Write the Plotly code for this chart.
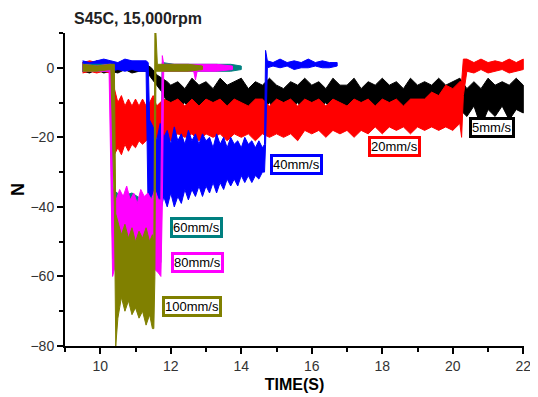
import plotly.graph_objects as go

# ---- data (envelopes: time [s], upper / lower force [N]) ----
labels = ["5mm/s", "20mm/s", "40mm/s", "60mm/s", "80mm/s", "100mm/s"]
colors = ["#000000", "#FF0000", "#0000FF", "#008080", "#FF00FF", "#808000"]

t_5 = [9.5, 9.7, 9.9, 10.1, 10.3, 10.5, 10.7, 10.9, 11.1, 11.3, 11.45, 11.6, 11.75, 11.9, 12.0,
       12.2, 12.4, 12.6, 12.8, 13.0, 13.2, 13.4, 13.6, 13.8, 14.0, 14.2, 14.4, 14.6, 14.8, 15.0,
       15.2, 15.4, 15.6, 15.8, 16.0, 16.2, 16.4, 16.6, 16.8, 17.0, 17.2, 17.4, 17.6, 17.8, 18.0,
       18.2, 18.4, 18.6, 18.8, 19.0, 19.2, 19.4, 19.6, 19.8, 20.0, 20.2, 20.4, 20.6, 20.8, 21.0,
       21.2, 21.4, 21.6, 21.8, 22.0]
hi_5 = [1.5, 1, 2, 1, 1.5, 1, 2, 1, 1.5, 1, 0, -2, -3, -4, -5,
        -4, -6, -3, -5, -4, -6, -3, -5, -4, -3, -6, -4, -5, -3, -5,
        -6, -4, -5, -3, -5, -4, -6, -3, -5, -5, -3, -6, -4, -5, -3,
        -5, -4, -6, -3, -5, -4, -5, -3, -5, -4, -3, -6, -4, -6, -3,
        -5, -4, -5, -3, -5]
lo_5 = [-1, -1.5, -0.5, -1.5, -1, -1.5, -0.5, -1.5, -1, -1, -3, -5, -7, -10, -11,
        -12, -10, -13, -11, -12, -10, -13, -11, -12, -10, -13, -11, -12, -10, -13,
        -11, -12, -10, -13, -11, -12, -10, -13, -11, -12, -10, -13, -11, -12, -10,
        -13, -11, -12, -10, -13, -11, -12, -10, -13, -11, -12, -14, -11, -17, -12,
        -14, -11, -15, -12, -13]

t_20 = [9.5, 9.7, 9.9, 10.1, 10.27, 10.32, 10.4, 10.5, 10.6, 10.7, 10.8, 10.9, 11.0, 11.1,
        11.2, 11.3, 11.4, 11.5, 11.6, 11.8,
        12.0, 12.2, 12.4, 12.6, 12.8, 13.0, 13.2, 13.4, 13.6, 13.8, 14.0, 14.2, 14.4, 14.6,
        14.8, 15.0, 15.2, 15.4, 15.6, 15.8, 16.0, 16.2, 16.4, 16.6, 16.8, 17.0, 17.2, 17.4,
        17.6, 17.8, 18.0, 18.2, 18.4, 18.6, 18.8, 19.0, 19.2, 19.4, 19.6, 19.8, 20.0, 20.2,
        20.25, 20.3, 20.4, 20.6, 20.8, 21.0, 21.2, 21.4, 21.6, 21.8, 22.0]
hi_20 = [1.5, 2, 1.5, 2, 1.5, -2, -6, -10, -8, -11, -9, -11, -9, -11,
         -9, -11, -10, -8, -11, -9,
         -10, -9, -11, -9, -11, -9, -10, -9, -11, -9, -10, -11, -9, -9,
         -11, -9, -10, -9, -11, -9, -10, -9, -11, -9, -10, -11, -9, -10,
         -9, -11, -9, -10, -9, -11, -9, -9, -9, -7, -8, -5, -6, -4,
         -4, 2.5, 2.5, 1.5, 2.5, 1.5, 2, 1.5, 2.5, 1.5, 2.5]
lo_20 = [-1.5, -1, -1.5, -1, -1.5, -22, -25, -23, -25, -22, -24, -22, -23, -21,
         -22, -21, -20, -22, -20, -21,
         -21, -19, -20, -19, -21, -19, -20, -19, -21, -19, -20, -19, -21, -19,
         -20, -19, -20, -19, -21, -18, -19, -18, -20, -18, -19, -18, -20, -18,
         -19, -17, -19, -17, -18, -17, -19, -17, -18, -17, -18, -17, -18, -16,
         -20, -8, -1, -1.5, -0.5, -1.5, -1, -0.5, -1.5, -1, -0.5]

t_40 = [9.5, 9.7, 9.9, 10.1, 10.3, 10.5, 10.7, 10.9, 11.1, 11.3, 11.36, 11.4,
        11.5, 11.6, 11.7, 11.8, 11.9, 12.0, 12.1, 12.2, 12.3, 12.4, 12.5, 12.6, 12.7, 12.8,
        12.9, 13.0, 13.1, 13.2, 13.3, 13.4, 13.5, 13.6, 13.7, 13.8, 13.9, 14.0, 14.1, 14.2,
        14.3, 14.4, 14.5, 14.6,
        14.66, 14.69, 14.74, 14.9, 15.1, 15.3, 15.5, 15.7, 15.9, 16.1, 16.3, 16.5, 16.72]
hi_40 = [2, 1.5, 2, 2.5, 2, 1.5, 2.5, 2, 2, 2, 1.5, -15,
         -17, -21, -16, -20, -18, -22, -17, -21, -19, -22, -18, -21, -19, -22,
         -19, -21, -20, -23, -19, -22, -20, -23, -20, -22, -21, -23, -20, -22,
         -21, -23, -21, -23,
         -22, 5, 2, 1.5, 2.5, 1.5, 2, 1.5, 2.5, 1.5, 2, 1.5, 1.5]
lo_40 = [-1, -0.5, -1, -0.5, -1, -0.5, -1, -0.5, -1, -1, -43, -44,
         -44, -38, -42, -37, -40, -36, -40, -37, -39, -35, -38, -35, -37, -34,
         -37, -34, -36, -33, -36, -33, -35, -32, -34, -32, -34, -31, -33, -31,
         -33, -31, -32, -30,
         -30, -22, 0, 0.5, 0, 0.5, -0.5, 0, 0, 0.5, 0, 0, 0.5]

t_60 = [9.5, 9.9, 10.3, 10.33, 10.36, 10.6, 10.9, 11.2, 11.5, 11.72, 11.76, 12.1, 12.5, 12.9,
        13.3, 13.7, 14.0]
hi_60 = [1, 1, 1, 1, -35, -37, -36, -38, -37, -38, 1.5, 1, 1, 1, 1, 1, 0.5]
lo_60 = [-1, -1, -1, -40, -55, -56, -55, -57, -56, -56, -1, -1, -1, -1, -1, -1, -0.5]

t_80 = [9.5, 9.9, 10.25, 10.3,
        10.35, 10.45, 10.55, 10.65, 10.75, 10.85, 10.95, 11.05, 11.15, 11.25, 11.35, 11.45,
        11.55, 11.65,
        11.72, 11.76, 11.8, 12.1, 12.4, 12.65, 12.7, 12.75, 13.0, 13.3, 13.75]
hi_80 = [1, 0.5, 1, 1,
         -34, -38, -35, -37, -34, -38, -36, -39, -35, -37, -36, -38, -35, -38,
         -38, 3.5, 1, 1, 1, 1, 1, 1, 1, 1, 0.5]
lo_80 = [-1, -1, -1, -30,
         -60, -56, -59, -55, -58, -56, -59, -55, -58, -56, -57, -55, -58, -59,
         -60, -40, -1, -1, -1, -1, -3.5, -1, -1, -1, -0.5]

t_100 = [9.5, 9.9, 10.3, 10.4, 10.44,
         10.5, 10.6, 10.7, 10.8, 10.9, 11.0, 11.1, 11.2, 11.3, 11.4, 11.48,
         11.52, 11.55, 11.58, 11.62, 11.9, 12.2, 12.5, 12.9]
hi_100 = [1, 0.5, 1, 1, -42,
          -44, -48, -45, -49, -46, -50, -47, -49, -46, -50, -48,
          -50, 10, 10, 1, 1, 1, 1, 0.5]
lo_100 = [-1, -1, -0.5, -40, -80,
          -72, -66, -70, -67, -71, -69, -72, -70, -74, -71, -75,
          -75, -60, -1, -1, -1, -1, -1, -0.5]

# label positions (data coordinates)
label_x = [21.11, 18.36, 15.58, 12.73, 12.76, 12.59]
label_y = [-17.3, -22.6, -27.8, -45.9, -56.1, -68.5]

x_ticks = [10, 12, 14, 16, 18, 20, 22]
y_ticks = [-80, -60, -40, -20, 0]

series = [(t_5, hi_5, lo_5), (t_20, hi_20, lo_20), (t_40, hi_40, lo_40),
          (t_60, hi_60, lo_60), (t_80, hi_80, lo_80), (t_100, hi_100, lo_100)]

fig = go.Figure()
for (t, hi, lo), name, col in zip(series, labels, colors):
    fig.add_trace(go.Scatter(
        x=list(t) + list(t)[::-1],
        y=list(hi) + list(lo)[::-1],
        mode="lines", fill="toself", fillcolor=col,
        line=dict(color=col, width=1),
        name=name, showlegend=False, hoverinfo="skip"))

for name, col, lx, ly in zip(labels, colors, label_x, label_y):
    fig.add_annotation(x=lx, y=ly, xref="x", yref="y", text=name, showarrow=False,
                       font=dict(family="Arial, Liberation Sans", size=13, color="#000000"),
                       bgcolor="white", bordercolor=col, borderwidth=3, borderpad=0)

# the page body adds an 8px offset, so the figure is sized to 530x389
W, H = 530, 389
fig.update_layout(
    width=W, height=H, autosize=False,
    margin=dict(l=57, r=14, t=25, b=51, autoexpand=False),
    paper_bgcolor="white", plot_bgcolor="white",
    title=dict(text="<b>S45C, 15,000rpm</b>", x=66 / W, xanchor="left",
               y=1 - 10 / H, yanchor="middle", automargin=False,
               font=dict(family="Arial, Liberation Sans", size=16, color="#222222")),
    xaxis=dict(range=[9, 22.02], tickvals=x_ticks, showgrid=False, zeroline=False,
               automargin=False,
               showline=True, linecolor="black", linewidth=2,
               ticks="outside", ticklen=6, tickwidth=2, tickcolor="black",
               minor=dict(dtick=1, tick0=9, ticks="outside", ticklen=4, tickwidth=1.5,
                          tickcolor="black", showgrid=False),
               tickfont=dict(family="Arial, Liberation Sans", size=14, color="#333333"),
               title=dict(text="<b>TIME(S)</b>", standoff=6,
                          font=dict(family="Arial, Liberation Sans", size=16, color="black"))),
    yaxis=dict(range=[-80, 10], tickvals=y_ticks, showgrid=False, zeroline=False,
               automargin=False,
               showline=True, linecolor="black", linewidth=2,
               ticks="outside", ticklen=6, tickwidth=2, tickcolor="black",
               minor=dict(dtick=10, tick0=-80, ticks="outside", ticklen=4, tickwidth=1.5,
                          tickcolor="black", showgrid=False),
               tickfont=dict(family="Arial, Liberation Sans", size=14, color="#333333"),
               title=dict(text="<b>N</b>", standoff=16,
                          font=dict(family="Arial, Liberation Sans", size=18, color="black"))),
)

fig.write_html("out.html")
